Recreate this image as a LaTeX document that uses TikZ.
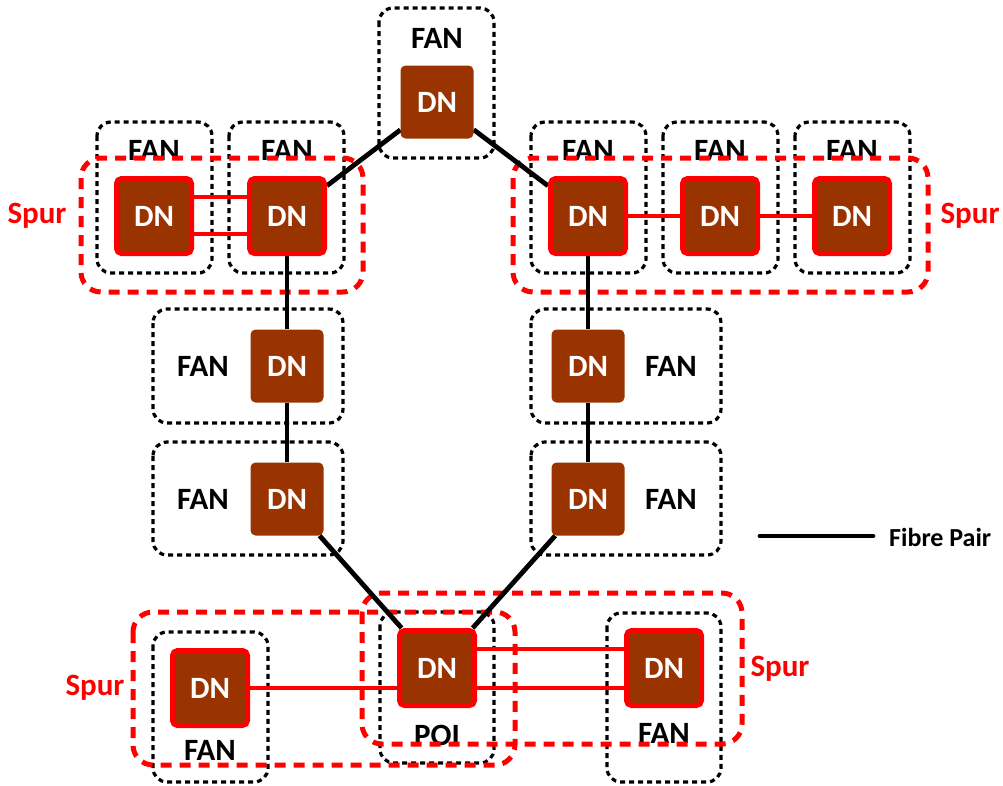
\documentclass[tikz,border=0pt]{standalone}
\usepackage{fontspec}
\setmainfont{Carlito}
\usetikzlibrary{calc}
\definecolor{dnbrown}{RGB}{153,51,0}
\definecolor{spurred}{RGB}{255,0,0}
\pgfdeclarelayer{bg}
\pgfsetlayers{bg,main}
\begin{document}
\begin{tikzpicture}[x=1pt,y=-1pt,
 dnbox/.style={fill=dnbrown, rounded corners=5pt, minimum width=73pt, minimum height=73pt, inner sep=0pt, text=white, font=\fontsize{31}{32}\selectfont\bfseries},
 dnred/.style={dnbox, draw=spurred, line width=5pt, minimum width=75pt, minimum height=75pt},
 fanbox/.style={draw=black, dash pattern=on 5pt off 4pt, line width=3.2pt, rounded corners=14pt},
 spurbox/.style={draw=spurred, dash pattern=on 11pt off 8pt, line width=5pt, rounded corners=20pt},
 lbl/.style={font=\fontsize{31}{32}\selectfont\bfseries, inner sep=0pt},
 spurlbl/.style={lbl, text=spurred},
 fibre/.style={line width=4.8pt, black},
 redlink/.style={line width=4.5pt, spurred}]
\useasboundingbox (0,0) rectangle (1003,785);

% DN nodes
\node[dnbox] (t) at (437,102) {DN};
\node[dnred] (l1) at (154,216) {DN};
\node[dnred] (l2) at (287,216) {DN};
\node[dnred] (r1) at (588,216) {DN};
\node[dnred] (r2) at (720,216) {DN};
\node[dnred] (r3) at (852,216) {DN};
\node[dnbox] (l3) at (287,366) {DN};
\node[dnbox] (l4) at (287,499) {DN};
\node[dnbox] (r4) at (588,366) {DN};
\node[dnbox] (r5) at (588,499) {DN};
\node[dnred] (poi) at (437,668) {DN};
\node[dnred] (lf) at (210,688) {DN};
\node[dnred] (rf) at (664,668) {DN};

\begin{pgfonlayer}{bg}
% FAN boxes
\draw[fanbox] (379,8) rectangle (494,158);
\draw[fanbox] (97,122) rectangle (212,273);
\draw[fanbox] (229,122) rectangle (344,273);
\draw[fanbox] (531,122) rectangle (646,273);
\draw[fanbox] (663,122) rectangle (778,273);
\draw[fanbox] (795,122) rectangle (910,273);
\draw[fanbox] (153,309) rectangle (343,423);
\draw[fanbox] (153,442) rectangle (343,555);
\draw[fanbox] (531,309) rectangle (721,423);
\draw[fanbox] (531,442) rectangle (721,555);
\draw[fanbox] (380,612) rectangle (494,763);
\draw[fanbox] (153,632) rectangle (268,782);
\draw[fanbox] (607,613) rectangle (721,782);
% FAN labels
\node[lbl] (ft) at (437,38) {FAN};
\node[lbl] (f1) at (154,150) {FAN};
\node[lbl] (f2) at (287,150) {FAN};
\node[lbl] (f3) at (588,150) {FAN};
\node[lbl] (f4) at (720,150) {FAN};
\node[lbl] (f5) at (852,150) {FAN};
\node[lbl] (f6) at (203,366) {FAN};
\node[lbl] (f7) at (203,499) {FAN};
\node[lbl] (f8) at (671,366) {FAN};
\node[lbl] (f9) at (671,499) {FAN};
\node[lbl] (f10) at (210,750) {FAN};
\node[lbl] (f11) at (664,733) {FAN};
\node[lbl] (poilbl) at (437,735) {POI};
% Spur boxes
\draw[spurbox] (81,158) rectangle (363,292);
\draw[spurbox] (513,158) rectangle (928,292);
\draw[spurbox] (133,612) rectangle (515,765);
\draw[spurbox] (362,593) rectangle (742,744);
% fibre links
\draw[fibre] (t) -- (l2);
\draw[fibre] (t) -- (r1);
\draw[fibre] (l2) -- (l3);
\draw[fibre] (l3) -- (l4);
\draw[fibre] (l4) -- (poi);
\draw[fibre] (r1) -- (r4);
\draw[fibre] (r4) -- (r5);
\draw[fibre] (r5) -- (poi);
% red links
\draw[redlink] ([yshift=19pt]l1.east) -- ([yshift=19pt]l2.west);
\draw[redlink] ([yshift=-18pt]l1.east) -- ([yshift=-18pt]l2.west);
\draw[redlink] (r1) -- (r2);
\draw[redlink] (r2) -- (r3);
\draw[redlink] (lf.east) -- (lf.east -| poi.west);
\draw[redlink] ([yshift=19pt]poi.east) -- ([yshift=19pt]rf.west);
\draw[redlink] ([yshift=-20pt]poi.east) -- ([yshift=-20pt]rf.west);
\end{pgfonlayer}

% Spur labels
\node[spurlbl] (s1) at (37,216) {Spur};
\node[spurlbl] (s2) at (970,216) {Spur};
\node[spurlbl] (s3) at (95,688) {Spur};
\node[spurlbl] (s4) at (780,669) {Spur};

% legend
\coordinate (la) at (760,536);
\coordinate (lb) at (873,536);
\draw[fibre, line cap=round] (la) -- (lb);
\node[font=\fontsize{26}{26}\selectfont\bfseries, anchor=west, inner sep=0pt] (leg) at (889,537) {Fibre Pair};
\end{tikzpicture}
\end{document}
